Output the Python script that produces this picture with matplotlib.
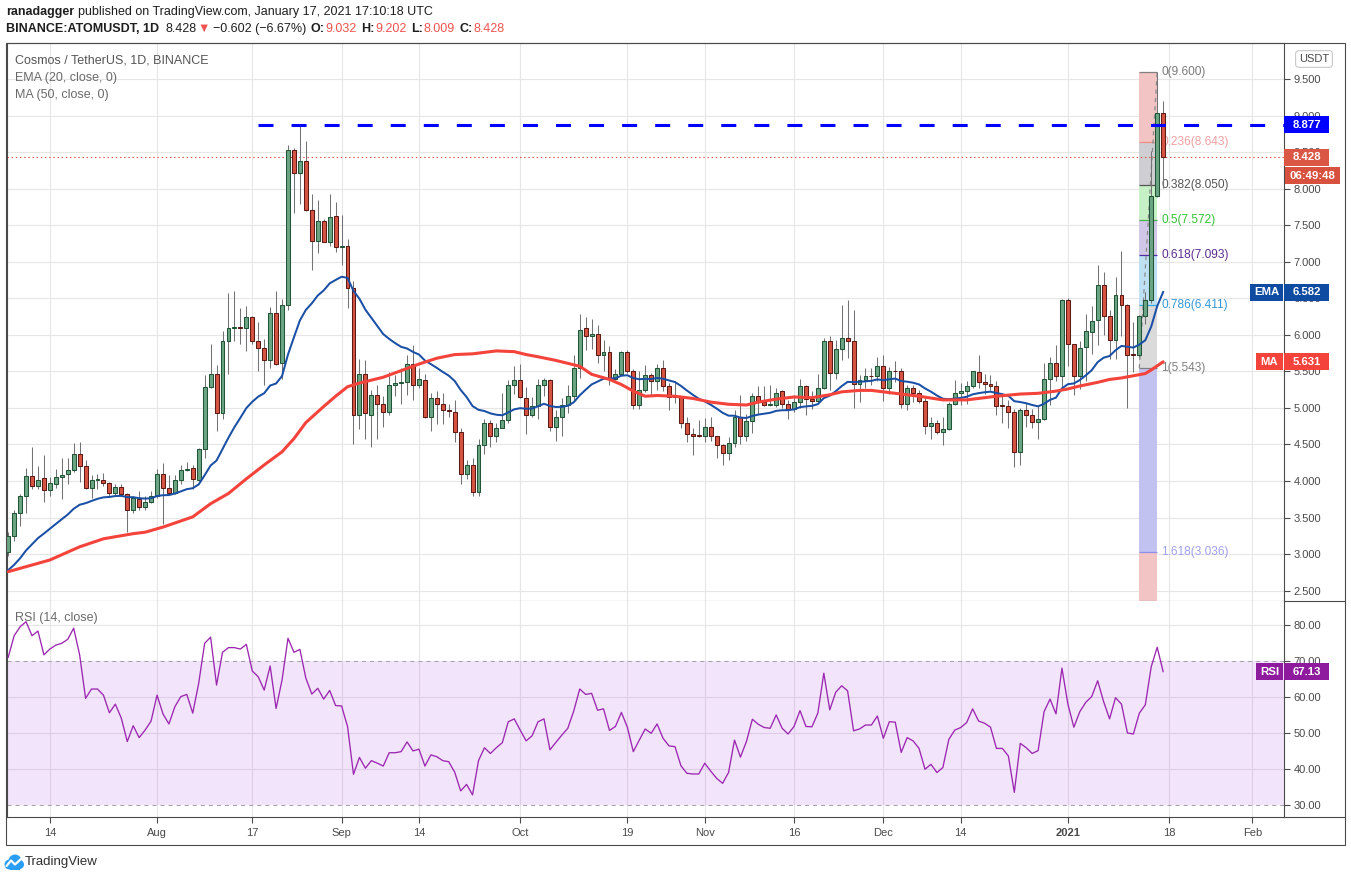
import numpy as np
import pandas as pd
import matplotlib
matplotlib.use('Agg')
import matplotlib.pyplot as plt
import matplotlib.dates as mdates
from matplotlib.patches import Rectangle, Circle, Polygon
from matplotlib.ticker import FormatStrFormatter
from matplotlib.transforms import blended_transform_factory
from matplotlib.lines import Line2D

plt.rcParams['font.family'] = ['Liberation Sans', 'DejaVu Sans']
plt.rcParams['lines.scale_dashes'] = False

# Tageskerzen ATOM/USDT, 2020-07-07 bis 2021-01-17
start_date = '2020-07-07'
opens = [
    3.03, 3.25, 3.56, 3.80, 4.07, 3.93, 4.04, 3.88, 3.96, 4.06, 4.10, 4.15, 4.37, 4.20, 3.90, 4.02, 4.02, 3.97, 3.83, 3.92, 3.82, 3.61, 3.76, 3.64, 3.72,
    3.80, 4.09, 3.91, 3.83, 4.02, 4.15, 4.18, 4.02, 4.44, 5.28, 5.47, 4.93, 5.91, 6.09, 6.10, 6.09, 6.25, 5.91, 5.82, 5.65, 6.30, 5.61, 6.41, 8.53, 8.21, 8.38, 7.71, 7.28, 7.56, 7.27, 7.62,
    7.20, 7.21, 6.64, 4.91, 5.47, 4.91, 5.18, 5.06, 4.95, 5.32, 5.34, 5.35, 5.60, 5.32, 5.38, 4.87, 5.13, 5.06, 4.97, 4.95, 4.67, 4.09, 4.22, 3.85, 4.49, 4.80, 4.62, 4.73, 4.83, 5.31,
    5.38, 5.13, 4.91, 5.02, 5.32, 5.38, 4.74, 4.88, 5.04, 5.16, 5.54, 6.09, 5.98, 6.01, 5.73, 5.77, 5.40, 5.47, 5.77, 5.51, 5.04, 5.24, 5.45, 5.37, 5.55, 5.30, 5.16, 5.15, 4.80, 4.64, 4.63,
    4.62, 4.74, 4.61, 4.49, 4.39, 4.52, 4.88, 4.62, 4.82, 5.16, 5.08, 5.04, 5.04, 5.23, 5.05, 4.98, 5.08, 5.30, 5.12, 5.10, 5.27, 5.92, 5.48, 5.81, 5.96, 5.91, 5.33, 5.38, 5.44, 5.43,
    5.57, 5.27, 5.51, 5.50, 5.05, 5.27, 5.21, 5.10, 4.75, 4.80, 4.67, 4.71, 5.06, 5.20, 5.23, 5.30, 5.49, 5.36, 5.33, 5.30, 5.04, 5.03, 4.95, 4.40, 4.97, 4.91, 4.81, 4.85, 5.39, 5.62, 5.43,
    6.47, 5.87, 5.43, 5.83, 6.04, 6.20, 6.68, 6.26, 5.93, 6.55, 6.41, 5.73, 5.72, 6.26, 6.48, 7.90, 9.032,
]
highs = [
    3.30, 3.60, 3.82, 4.18, 4.47, 4.20, 4.36, 4.05, 4.17, 4.31, 4.31, 4.52, 4.54, 4.29, 4.08, 4.10, 4.11, 3.98, 3.96, 3.96, 3.84, 3.80, 3.86, 3.79, 3.86,
    4.16, 4.25, 4.08, 4.08, 4.22, 4.26, 4.22, 4.45, 5.45, 5.88, 5.59, 6.05, 6.57, 6.60, 6.37, 6.40, 6.26, 6.17, 5.94, 6.38, 6.60, 6.49, 8.59, 8.56, 8.87, 8.65, 7.93, 7.84, 7.59, 7.93, 7.82,
    7.64, 7.31, 6.74, 5.67, 5.66, 5.25, 5.32, 5.17, 5.49, 5.45, 5.54, 5.73, 5.86, 5.54, 5.46, 5.20, 5.23, 5.21, 5.06, 5.11, 4.73, 4.29, 4.31, 4.57, 4.85, 4.84, 4.80, 5.21, 5.38, 5.58,
    5.60, 5.29, 5.15, 5.40, 5.41, 5.40, 4.97, 5.13, 5.31, 5.72, 6.28, 6.25, 6.21, 6.14, 5.93, 5.85, 5.53, 5.78, 5.79, 5.53, 5.51, 5.59, 5.48, 5.60, 5.66, 5.34, 5.37, 5.16, 4.87, 4.73, 4.83,
    4.86, 4.88, 4.62, 4.51, 4.60, 4.97, 5.18, 4.92, 5.21, 5.30, 5.30, 5.32, 5.27, 5.25, 5.11, 5.18, 5.39, 5.32, 5.23, 5.47, 5.95, 5.98, 5.93, 6.41, 6.47, 6.34, 5.45, 5.55, 5.55, 5.70,
    5.73, 5.56, 5.64, 5.54, 5.32, 5.31, 5.24, 5.13, 4.88, 4.84, 4.87, 5.08, 5.38, 5.34, 5.37, 5.51, 5.73, 5.46, 5.45, 5.37, 5.18, 5.11, 4.98, 5.00, 5.07, 4.98, 5.04, 5.62, 5.70, 5.86, 6.49,
    6.51, 5.88, 5.91, 6.28, 6.39, 6.96, 6.86, 6.34, 6.79, 7.14, 6.42, 6.17, 6.27, 6.59, 8.51, 9.60, 9.202,
]
lows = [
    2.97, 3.18, 3.39, 3.56, 3.89, 3.89, 3.72, 3.79, 3.91, 3.75, 3.96, 4.12, 3.98, 3.89, 3.77, 3.89, 3.93, 3.80, 3.79, 3.79, 3.30, 3.56, 3.61, 3.60, 3.70,
    3.77, 3.41, 3.82, 3.82, 3.96, 4.14, 3.89, 4.00, 4.31, 5.27, 4.69, 4.85, 5.46, 5.91, 5.88, 5.78, 5.87, 5.51, 5.31, 5.54, 5.59, 5.40, 6.34, 7.67, 7.79, 7.69, 6.88, 7.12, 7.27, 7.22, 7.13,
    6.96, 6.37, 4.50, 4.71, 4.57, 4.46, 4.57, 4.74, 4.90, 5.17, 5.05, 5.18, 5.11, 5.27, 4.86, 4.69, 4.78, 4.78, 4.87, 4.54, 3.96, 4.03, 3.79, 3.79, 4.37, 4.47, 4.54, 4.72, 4.79, 5.19,
    5.13, 4.64, 4.87, 4.85, 5.16, 4.68, 4.55, 4.62, 4.93, 5.11, 5.41, 5.79, 5.81, 5.62, 5.51, 5.31, 5.38, 5.46, 5.48, 4.99, 4.99, 5.22, 5.18, 5.25, 5.23, 4.97, 5.07, 4.72, 4.54, 4.35, 4.60,
    4.54, 4.55, 4.31, 4.22, 4.29, 4.47, 4.51, 4.55, 4.66, 4.92, 5.02, 5.02, 5.01, 5.00, 4.85, 4.95, 5.00, 4.91, 4.99, 5.09, 5.26, 5.24, 5.39, 5.66, 5.68, 5.00, 5.08, 5.27, 5.32, 5.37,
    5.10, 5.19, 5.35, 5.00, 4.97, 5.08, 5.07, 4.64, 4.57, 4.64, 4.49, 4.70, 5.04, 5.04, 5.06, 5.27, 5.27, 5.19, 5.24, 4.91, 4.80, 4.73, 4.19, 4.22, 4.74, 4.73, 4.57, 4.83, 5.04, 5.37, 5.27,
    5.58, 5.18, 5.26, 5.37, 5.74, 5.86, 6.00, 5.67, 5.67, 5.98, 5.00, 5.49, 5.70, 6.15, 6.44, 7.88, 8.009,
]
closes = [
    3.25, 3.56, 3.79, 4.07, 3.93, 4.02, 3.88, 3.97, 4.05, 4.08, 4.15, 4.37, 4.20, 3.90, 4.02, 4.03, 3.97, 3.83, 3.92, 3.82, 3.61, 3.77, 3.64, 3.71, 3.80,
    4.09, 3.91, 3.83, 4.02, 4.15, 4.17, 4.03, 4.44, 5.28, 5.47, 4.93, 5.91, 6.09, 6.10, 6.09, 6.25, 5.91, 5.82, 5.65, 6.30, 5.60, 6.41, 8.53, 8.21, 8.38, 7.71, 7.28, 7.56, 7.27, 7.61, 7.20,
    7.21, 6.64, 4.90, 5.47, 4.93, 5.18, 5.06, 4.95, 5.32, 5.34, 5.35, 5.60, 5.32, 5.39, 4.87, 5.13, 5.06, 4.97, 4.96, 4.67, 4.09, 4.22, 3.85, 4.49, 4.80, 4.62, 4.73, 4.83, 5.31, 5.38,
    5.15, 4.91, 5.02, 5.32, 5.38, 4.74, 4.88, 5.04, 5.16, 5.54, 6.07, 5.98, 6.01, 5.73, 5.77, 5.40, 5.47, 5.77, 5.51, 5.04, 5.24, 5.45, 5.37, 5.55, 5.30, 5.15, 5.15, 4.80, 4.64, 4.62, 4.62,
    4.74, 4.61, 4.49, 4.39, 4.52, 4.88, 4.62, 4.82, 5.16, 5.08, 5.04, 5.05, 5.21, 5.05, 4.98, 5.08, 5.30, 5.12, 5.10, 5.27, 5.92, 5.48, 5.81, 5.96, 5.91, 5.33, 5.38, 5.44, 5.43, 5.58,
    5.27, 5.51, 5.50, 5.05, 5.27, 5.21, 5.10, 4.75, 4.80, 4.67, 4.71, 5.06, 5.20, 5.23, 5.30, 5.50, 5.36, 5.33, 5.30, 5.03, 5.03, 4.95, 4.40, 4.97, 4.91, 4.81, 4.85, 5.39, 5.62, 5.43, 6.47,
    5.87, 5.43, 5.82, 6.05, 6.19, 6.68, 6.26, 5.93, 6.54, 6.41, 5.73, 5.72, 6.26, 6.48, 7.90, 9.032, 8.428,
]

# RSI (14) pro Tag
rsi = [
    71.1, 77.1, 79.6, 81.0, 77.1, 78.4, 71.8, 73.4, 74.5, 75.0, 76.1, 79.2, 71.8, 59.7, 62.3, 62.3, 60.6, 55.7, 58.1, 54.2, 47.7, 52.1, 48.8, 50.9, 53.4,
    60.6, 55.4, 52.6, 57.4, 60.2, 60.8, 55.6, 63.9, 75.0, 76.7, 63.4, 72.5, 73.8, 73.8, 73.4, 74.7, 67.3, 65.7, 62.0, 68.7, 56.9, 64.8, 76.4, 72.5, 73.3, 65.3, 60.9, 62.5, 59.5, 61.9, 57.7,
    57.6, 51.9, 38.6, 43.3, 40.3, 42.4, 41.7, 40.9, 44.6, 44.6, 44.9, 47.6, 45.1, 45.6, 40.9, 44.0, 43.5, 42.4, 42.1, 39.2, 34.0, 35.8, 32.9, 42.4, 46.0, 44.4, 46.0, 47.4, 53.2, 54.0,
    50.9, 47.9, 49.3, 53.2, 54.0, 45.4, 47.5, 49.5, 51.4, 56.2, 62.3, 60.8, 61.1, 56.4, 56.8, 50.8, 51.9, 55.8, 51.7, 44.9, 48.1, 51.2, 50.0, 52.6, 48.6, 46.5, 46.3, 41.0, 38.9, 38.7, 38.7,
    41.7, 39.5, 37.5, 36.1, 39.1, 48.1, 43.4, 47.7, 53.9, 52.5, 51.6, 51.4, 55.1, 51.4, 49.8, 51.9, 56.3, 51.9, 51.8, 55.6, 66.7, 56.5, 61.4, 63.2, 61.8, 50.7, 51.2, 52.3, 52.3, 54.8,
    48.6, 53.2, 53.1, 44.7, 48.8, 47.9, 45.8, 40.0, 41.4, 39.1, 40.5, 48.3, 50.9, 51.6, 53.0, 56.8, 53.4, 52.8, 51.7, 45.8, 45.8, 43.7, 33.6, 47.2, 46.0, 44.4, 45.2, 56.0, 59.5, 55.4, 68.1,
    58.1, 51.7, 56.0, 58.6, 60.2, 64.6, 58.8, 54.0, 59.9, 58.1, 50.1, 49.8, 55.6, 57.9, 68.5, 73.9, 67.13,
]

ma_days = [0, 7, 12, 16, 21, 23, 26, 31, 34, 37, 40, 43, 46, 48, 50, 53, 55, 57, 59, 63, 66, 69, 72, 75, 78,
           82, 85, 87, 89, 92, 94, 96, 98, 101, 103, 105, 107, 109, 112, 115, 118, 121, 124, 126, 129, 132, 135, 138, 140, 143,
           145, 148, 150, 153, 157, 161, 163, 166, 170, 173, 176, 178, 180, 183, 185, 187, 189, 191, 192, 194]
ma_vals = [2.76, 2.92, 3.10, 3.21, 3.28, 3.30, 3.37, 3.51, 3.69, 3.83, 4.03, 4.22, 4.40, 4.58, 4.80, 5.02, 5.16, 5.29, 5.34, 5.42, 5.51, 5.60, 5.68, 5.73, 5.74,
           5.78, 5.77, 5.73, 5.70, 5.65, 5.61, 5.57, 5.46, 5.39, 5.32, 5.23, 5.16, 5.17, 5.16, 5.13, 5.08, 5.05, 5.04, 5.08, 5.12, 5.15, 5.14, 5.18, 5.22, 5.24,
           5.24, 5.21, 5.19, 5.16, 5.11, 5.11, 5.13, 5.16, 5.19, 5.20, 5.23, 5.26, 5.30, 5.35, 5.39, 5.41, 5.44, 5.47, 5.52, 5.631]
ema_start = 2.78
ema_len = 20

# Fibonacci Retracement (Jan 13 -> Jan 16)
fib_ratios = ['0', '0.236', '0.382', '0.5', '0.618', '0.786', '1', '1.618']
fib_values = [9.600, 8.643, 8.050, 7.572, 7.093, 6.411, 5.543, 3.036]
fib_start, fib_end = 190, 193
resistance = 8.877
resistance_start = 42
last_price = 8.428
ema_last, ma_last, rsi_last = 6.582, 5.631, 67.13

tick_dates = ['2020-07-14', '2020-08-01', '2020-08-17', '2020-09-01', '2020-09-14', '2020-10-01', '2020-10-19',
              '2020-11-01', '2020-11-16', '2020-12-01', '2020-12-14', '2021-01-01', '2021-01-18', '2021-02-01']
tick_labels = ['14', 'Aug', '17', 'Sep', '14', 'Oct', '19', 'Nov', '16', 'Dec', '14', '2021', '18', 'Feb']

opens = np.array(opens); highs = np.array(highs); lows = np.array(lows); closes = np.array(closes)
x = mdates.date2num(pd.date_range(start_date, periods=len(closes), freq='D'))

# EMA 20 aus den Schlusskursen
alpha = 2 / (ema_len + 1)
ema = [ema_start]
for c in closes[1:]:
    ema.append(ema[-1] + alpha * (c - ema[-1]))

W, H = 1351, 881
fig = plt.figure(figsize=(W / 100, H / 100), dpi=100)

def fx(px):
    return px / W

def fy(py):
    return 1 - py / H

ax1 = fig.add_axes([fx(7), fy(601), fx(1284) - fx(7), fy(43) - fy(601)])
ax2 = fig.add_axes([fx(7), fy(817), fx(1284) - fx(7), fy(601) - fy(817)], sharex=ax1)

frame_col = '#4a4a4a'
grid_col = '#e6e6e6'
txt_col = '#4a4a4a'

for ax in (ax1, ax2):
    ax.set_axisbelow(True)
    for s in ax.spines.values():
        s.set_color(frame_col)
        s.set_linewidth(0.8)
ax2.spines['top'].set_visible(False)

ax1.set_xlim(x[0] - 0.2, x[0] + 214.3)
ax1.set_ylim(2.359, 9.992)
ax2.set_ylim(26.75, 86.75)

# Gitter
ax1.grid(True, color=grid_col, lw=0.8)
ax2.grid(True, axis='x', color=grid_col, lw=0.8)
ax2.hlines([40, 50, 60, 80], x[0] - 1, x[0] + 220, color=grid_col, lw=0.8, zorder=0.5)

# Kerzen
up = closes >= opens
fills = np.where(up, '#6ba583', '#d75442')
edges = np.where(up, '#225437', '#5b1a13')
ax1.vlines(x, lows, highs, color='#737375', lw=0.75, zorder=3)
ax1.bar(x, np.maximum(np.abs(closes - opens), 0.012), bottom=np.minimum(opens, closes),
        width=0.66, color=fills, edgecolor=edges, linewidth=0.75, zorder=4)

# Fibonacci
fib_fills = ['#f2c4c4', '#cfcfd3', '#c6f1c6', '#d1c7e6', '#bde0f3', '#dadada', '#c2c2f1']
fib_line_cols = ['#808080', '#f08c86', '#555555', '#4caf50', '#512da8', '#3ca5dd', '#808080', '#8f8fe8']
fib_text_cols = ['#7a7a7a', '#f0a0a0', '#555555', '#34c234', '#5b2d8e', '#3399d6', '#808080', '#a0a0ea']
x0, x1 = x[fib_start], x[fib_end]
for i in range(len(fib_values) - 1):
    ax1.fill_between([x0, x1], fib_values[i + 1], fib_values[i], color=fib_fills[i], lw=0, zorder=1)
ax1.fill_between([x0, x1], 0, fib_values[-1], color=fib_fills[0], lw=0, zorder=1)
ax1.hlines(fib_values, x0, x1, colors=fib_line_cols, lw=0.9, zorder=2)
for r, v, c in zip(fib_ratios, fib_values, fib_text_cols):
    ax1.annotate(f'{r}({v:.3f})', xy=(x1, v), xytext=(3, 0), textcoords='offset points',
                 va='center', ha='left', color=c, fontsize=8.6, zorder=2)
ax1.plot([x0, x1], [fib_values[6], fib_values[0]], color='#8a8a8a', lw=0.9, ls=(0, (3, 3)), zorder=2.5)

# EMA / MA
ax1.plot(x, ema, color='#1a4fa6', lw=1.45, zorder=5)
ax1.plot(x[ma_days], ma_vals, color='#f4433b', lw=2.2, zorder=5, solid_capstyle='round')

# Widerstand und letzter Kurs
ax1.plot([x[resistance_start], x[0] + 214.3], [resistance, resistance], color='#0000ff', lw=2.2,
         ls=(0, (10.8, 13)), zorder=6)
ax1.axhline(last_price, color='#e0503f', lw=0.8, ls=(0, (1, 2)), zorder=2)

# Achsen
ax1.yaxis.tick_right()
ax1.set_yticks(np.arange(2.5, 9.51, 0.5))
ax1.yaxis.set_major_formatter(FormatStrFormatter('%.3f'))
ax1.tick_params(axis='y', length=4, width=0.8, color=frame_col, labelcolor=txt_col, labelsize=8, pad=3)
ax1.tick_params(axis='x', length=0, labelbottom=False)

ax2.yaxis.tick_right()
ax2.set_yticks([30, 40, 50, 60, 70, 80])
ax2.yaxis.set_major_formatter(FormatStrFormatter('%.2f'))
ax2.tick_params(axis='y', length=4, width=0.8, color=frame_col, labelcolor=txt_col, labelsize=8, pad=3)
ax2.set_xticks(mdates.datestr2num(tick_dates))
ax2.set_xticklabels(tick_labels)
ax2.tick_params(axis='x', length=4, width=0.8, color=frame_col, labelcolor=txt_col, labelsize=8, pad=4)
ax2.get_xticklabels()[11].set_fontweight('bold')

# RSI
ax2.axhspan(30, 70, color=(155 / 255, 38 / 255, 230 / 255, 0.12), lw=0, zorder=1)
for lvl in (30, 70):
    ax2.axhline(lvl, color='#a4a4a8', lw=0.75, ls=(0, (2.9, 2.9)), zorder=2)
ax2.plot(x, rsi, color='#9c27b0', lw=0.95, zorder=3)

# Preis-Etiketten an der Skala
def tag(ax, val, label, color, left_px, right_px, ppu, h_px=17):
    tr = blended_transform_factory(ax.transAxes, ax.transData)
    axw = 1284 - 7
    xa = (left_px - 7) / axw
    w = (right_px - left_px) / axw
    h = h_px / ppu
    ax.add_patch(Rectangle((xa, val - h / 2), w, h, transform=tr, facecolor=color, lw=0,
                           clip_on=False, zorder=20))
    ax.text(xa + w / 2, val, label, transform=tr, ha='center', va='center', color='white',
            fontsize=8.2, fontweight='bold', zorder=21, clip_on=False)

ppu1 = 558 / (9.992 - 2.359)
ppu2 = 216 / 60
tag(ax1, resistance, f'{resistance:.3f}', '#0000ff', 1284, 1329, ppu1)
tag(ax1, last_price, f'{last_price:.3f}', '#db5745', 1284, 1329, ppu1)
tag(ax1, last_price - 18.5 / ppu1, '06:49:48', '#d8513f', 1285, 1340, ppu1)
tag(ax1, ema_last, 'EMA', '#0f4ba1', 1250, 1283, ppu1)
tag(ax1, ema_last, f'{ema_last:.3f}', '#0f4ba1', 1284, 1329, ppu1)
tag(ax1, ma_last, 'MA', '#f4433b', 1256, 1283, ppu1)
tag(ax1, ma_last, f'{ma_last:.3f}', '#f4433b', 1284, 1329, ppu1)
tag(ax2, rsi_last, 'RSI', '#8e1b9e', 1256, 1283, ppu2)
tag(ax2, rsi_last, f'{rsi_last:.2f}', '#8e1b9e', 1284, 1329, ppu2)

# Rahmen
fig.add_artist(Rectangle((fx(6), fy(845)), fx(1345) - fx(6), fy(43) - fy(845), transform=fig.transFigure,
                         fill=False, ec=frame_col, lw=0.8))
for yy in (601, 817):
    fig.add_artist(Line2D([fx(1284), fx(1345)], [fy(yy), fy(yy)], transform=fig.transFigure,
                          color=frame_col, lw=0.8))

fig.text(fx(1314), fy(59), 'USDT', ha='center', va='center', fontsize=8, color=txt_col,
         bbox=dict(boxstyle='round,pad=0.3', fc='white', ec='#c8c8c8', lw=0.8))

# Legenden oben links
fig.text(fx(15), fy(60.5), 'Cosmos / TetherUS, 1D, BINANCE', va='center', fontsize=9, color='#555555')
fig.text(fx(15), fy(78), 'EMA (20, close, 0)', va='center', fontsize=9, color='#6a6a6a')
fig.text(fx(15), fy(95), 'MA (50, close, 0)', va='center', fontsize=9, color='#6a6a6a')
fig.text(fx(15), fy(618), 'RSI (14, close)', va='center', fontsize=9, color='#6a6a6a')

# Kopfzeilen
def chain(x_px, y_px, parts, size=9):
    r = fig.canvas.get_renderer()
    for txt, color, weight, gap in parts:
        t = fig.text(fx(x_px), fy(y_px), txt, color=color, fontweight=weight, fontsize=size, va='center', ha='left')
        x_px += t.get_window_extent(renderer=r).width + gap

dark = '#1e1e1e'
red = '#ef5350'
chain(6, 12.5, [('ranadagger', dark, 'bold', 3.5),
                ('published on TradingView.com, January 17, 2021 17:10:18 UTC', dark, 'normal', 0)])
chain(6, 29, [('BINANCE:ATOMUSDT, 1D', dark, 'bold', 6), ('8.428', dark, 'normal', 1.5), ('▼', red, 'normal', 3),
              ('\u22120.602 (\u22126.67%)', dark, 'normal', 4), ('O:', dark, 'bold', 0.5), ('9.032', red, 'normal', 5),
              ('H:', dark, 'bold', 0.5), ('9.202', red, 'normal', 5), ('L:', dark, 'bold', 0.5), ('8.009', red, 'normal', 5),
              ('C:', dark, 'bold', 0.5), ('8.428', red, 'normal', 0)])

# TradingView Logo unten
lax = fig.add_axes([fx(4), fy(871), fx(24) - fx(4), fy(853) - fy(871)])
lax.set_xlim(0, 20)
lax.set_ylim(0, 18)
lax.axis('off')
logo_blue = '#2a9df4'
for cx, cy, rr in [(5.5, 6.5, 5), (11, 10, 6.5), (15.5, 6.5, 4.5)]:
    lax.add_patch(Circle((cx, cy), rr, color=logo_blue, lw=0))
lax.add_patch(Rectangle((5.5, 1.5), 10, 5, color=logo_blue, lw=0))
lax.plot([2.5, 7, 11, 17], [5, 10.5, 6.5, 12], color='white', lw=1.6, solid_capstyle='round')
fig.text(fx(25), fy(862), 'TradingView', va='center', fontsize=9.5, color='#2f2f2f')

fig.savefig('out.png', dpi=100)
